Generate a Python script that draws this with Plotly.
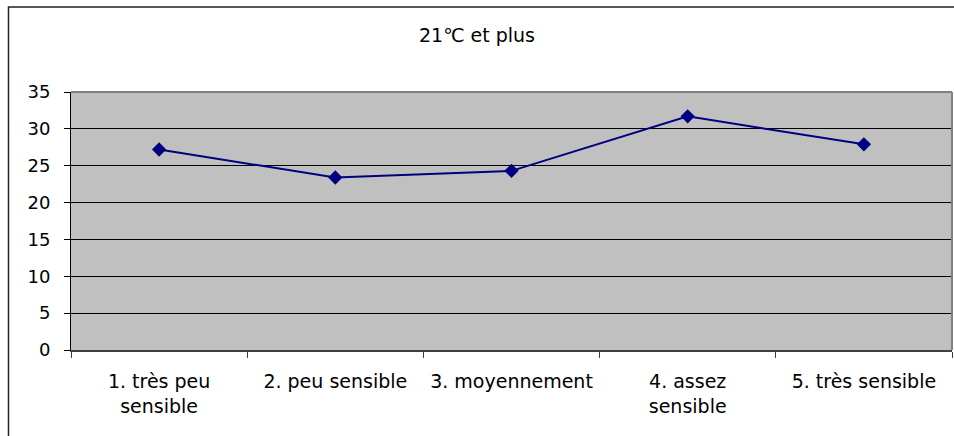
import plotly.graph_objects as go

# Survey answers (sensitivity level) and share of respondents at 21°C and above
categories = ["1. très peu<br>sensible", "2. peu sensible", "3. moyennement",
              "4. assez<br>sensible", "5. très sensible"]
values = [27.2, 23.4, 24.3, 31.7, 27.9]
y_ticks = [0, 5, 10, 15, 20, 25, 30, 35]
title_text = "21℃ et plus"

W, H = 954, 436
ML, MR, MT, MB = 71, 2, 92, 86
PW, PH = W - ML - MR, H - MT - MB


def px_x(p):
    return (p - ML) / PW


def px_y(p):
    return (H - MB - p) / PH


fig = go.Figure()
fig.add_trace(go.Scatter(
    x=categories, y=values, mode="lines+markers",
    line=dict(color="#000080", width=2),
    marker=dict(symbol="diamond", size=11, color="#000080"),
    cliponaxis=False,
))

font = "DejaVu Sans, Arial, sans-serif"

fig.update_layout(
    width=W, height=H,
    margin=dict(l=ML, r=MR, t=MT, b=MB, pad=0, autoexpand=False),
    paper_bgcolor="white",
    plot_bgcolor="#C0C0C0",
    showlegend=False,
    font=dict(family=font, color="black"),
    title=dict(text=title_text, x=0.5, xref="container", xanchor="center",
               y=1 - 35 / H, yref="container", yanchor="middle",
               font=dict(size=19, family=font, color="black")),
    xaxis=dict(
        type="category", range=[-0.5, 4.5],
        showgrid=False, zeroline=False,
        showline=True, linecolor="#404040", linewidth=2,
        ticks="outside", tickson="boundaries", ticklen=6,
        tickcolor="#404040", tickwidth=1,
        tickangle=0, automargin=False,
        tickfont=dict(size=19, family=font, color="black"),
        ticklabelstandoff=13,
    ),
    yaxis=dict(
        range=[0, 35], tickvals=y_ticks,
        showgrid=True, gridcolor="black", gridwidth=1,
        zeroline=False, automargin=False,
        showline=True, linecolor="black", linewidth=1,
        ticks="outside", ticklen=6, tickcolor="black", tickwidth=1,
        tickfont=dict(size=18, family=font, color="black"),
        ticklabelstandoff=10,
    ),
    shapes=[
        # outer chart frame
        dict(type="rect", xref="paper", yref="paper",
             x0=px_x(8.5), x1=px_x(W + 20), y0=px_y(H + 20), y1=px_y(7),
             line=dict(color="#222222", width=1.5), fillcolor="rgba(0,0,0,0)",
             layer="below"),
        # plot area top and right edges
        dict(type="line", xref="paper", yref="paper",
             x0=0, x1=1, y0=1, y1=1, line=dict(color="#808080", width=2)),
        dict(type="line", xref="paper", yref="paper",
             x0=1, x1=1, y0=0, y1=1, line=dict(color="#808080", width=2)),
    ],
)

fig.write_html("out.html")
